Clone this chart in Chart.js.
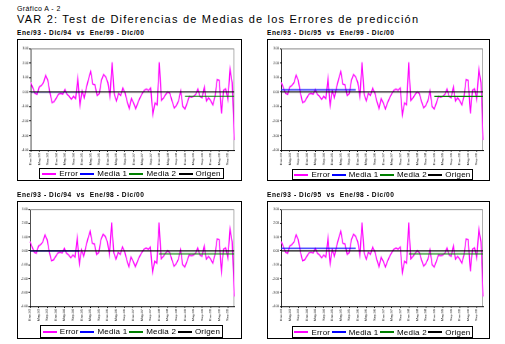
<!DOCTYPE html>
<html>
<head>
<meta charset="utf-8">
<script src="https://cdn.jsdelivr.net/npm/chart.js@4"></script>
<style>
  body { margin: 0; background: #fff; font-family: "Liberation Sans", Arial, sans-serif; }
  #page { position: relative; width: 505px; height: 344px; }
  .txt { position: absolute; left: 17px; white-space: pre; color: #000; }
  .box { position: absolute; border: 1px solid #000; }
  .box canvas { display: block; }
  .legend { position: absolute; border: 1px solid #000; box-sizing: border-box; display: flex;
            justify-content: space-evenly; align-items: center; font-size: 8px; letter-spacing: 0.2px; }
  .legend .item { display: flex; align-items: center; white-space: pre; }
  .legend .mark { display: inline-block; width: 14px; height: 0; margin-right: 3px; }
</style>
</head>
<body>
<div id="page">
  <div class="txt" style="top:5px;font-size:7px;letter-spacing:0.4px;">Gráfico A - 2</div>
  <div class="txt" style="top:13px;font-size:11px;letter-spacing:1.2px;">VAR 2: Test de Diferencias de Medias de los Errores de predicción</div>
</div>
<script>
const monthNames = ['Ene','Feb','Mar','Abr','May','Jun','Jul','Ago','Sep','Oct','Nov','Dic'];
const years = ['93','94','95','96','97','98','99','00'];
const labels = [];
years.forEach(y => monthNames.forEach(m => labels.push(m + '-' + y)));

// error de prediccion, Ene/93 - Dic/00
const errorValues = [
   0.67,  0.30, -0.10, -0.17,  0.35,  0.45,  0.65,  1.15,  0.80, -0.05, -0.72, -0.65,
  -0.40, -0.15, -0.10, -0.15,  0.17, -0.17, -0.30, -0.50, -0.30, -0.45,  0.95, -0.93,
   0.07, -0.40,  0.30,  0.90,  1.40,  0.55,  0.50, -0.25, -0.12,  0.80,  1.20,  1.05,
   0.65, -0.30,  2.05, -0.15, -0.60, -0.10, -0.25,  0.27, -0.05, -0.65, -1.15, -0.45,
  -0.75, -1.15, -0.75, -0.40, -0.12,  0.12,  0.20,  0.12,  0.27, -1.55, -0.75, -0.88,
   2.05, -0.57, -0.40, -0.17,  0.02, -0.12, -0.65, -1.10, -0.93, -0.60,  0.07, -1.00,
  -1.17, -0.75, -0.30, -0.35, -0.30, -0.17,  0.20, -0.30, -0.40,  0.35, -0.60, -0.40,
  -0.60, -0.88, -0.30,  0.85,  0.80, -1.48,  0.12,  0.22, -0.52,  1.57,  0.65, -3.30
];

const panelTitles = [
  'Ene/93 - Dic/94  vs  Ene/99 - Dic/00',
  'Ene/93 - Dic/95  vs  Ene/99 - Dic/00',
  'Ene/93 - Dic/94  vs  Ene/98 - Dic/00',
  'Ene/93 - Dic/95  vs  Ene/98 - Dic/00'
];
const media1End = ['Dic-94', 'Dic-95', 'Dic-94', 'Dic-95'];
const media1Level = [0.0, 0.15, 0.0, 0.18];
const media2Start = ['Ene-99', 'Ene-99', 'Ene-98', 'Ene-98'];
const media2Level = [-0.29, -0.30, -0.21, -0.21];

// box: left, top, width, height ; plot: left, top, right, bottom (relative to box)
const boxes = [
  [17, 39, 225, 142], [267, 39, 223, 142],
  [17, 201, 225, 138], [267, 201, 223, 138]
];
const plots = [
  [18, 10, 215, 109], [19, 10, 214, 109],
  [17, 9, 215, 102], [19, 9, 214, 102]
];
// legend frame: left, top, width, height (relative to box)
const legendBoxes = [
  [22, 129, 185, 11], [25, 130, 181, 11],
  [23, 124, 183, 13], [25, 125, 181, 12]
];

const frame = {
  id: 'frame',
  beforeDatasetsDraw(chart) {
    const a = chart.chartArea, c = chart.ctx;
    c.save();
    c.strokeStyle = '#808080';
    c.lineWidth = 1;
    c.beginPath();
    c.moveTo(a.left, a.top + 0.5);
    c.lineTo(a.right - 0.5, a.top + 0.5);
    c.lineTo(a.right - 0.5, a.bottom);
    c.stroke();
    c.restore();
  }
};

function buildLegend(chart, box, i) {
  const [ll, lt, lw, lh] = legendBoxes[i];
  const lg = document.createElement('div');
  lg.className = 'legend';
  lg.style.left = (ll - 1) + 'px';
  lg.style.top = (lt - 1) + 'px';
  lg.style.width = lw + 'px';
  lg.style.height = lh + 'px';
  chart.data.datasets.forEach(ds => {
    const el = document.createElement('span');
    el.className = 'item';
    const mark = document.createElement('span');
    mark.className = 'mark';
    mark.style.borderTop = '2px solid ' + ds.borderColor;
    el.appendChild(mark);
    el.appendChild(document.createTextNode(ds.label));
    lg.appendChild(el);
  });
  box.appendChild(lg);
}

function renderPanel(i) {
  const [bx, by, bw, bh] = boxes[i];
  const [pl, pt, pr, pb] = plots[i];
  const page = document.getElementById('page');

  const title = document.createElement('div');
  title.className = 'txt';
  title.style.left = bx + 'px';
  title.style.top = (by - 10) + 'px';
  title.style.fontSize = '6.6px';
  title.style.fontWeight = 'bold';
  title.style.letterSpacing = '0.55px';
  title.textContent = panelTitles[i];
  page.appendChild(title);

  const box = document.createElement('div');
  box.className = 'box';
  box.style.left = bx + 'px';
  box.style.top = by + 'px';
  box.style.width = (bw - 2) + 'px';
  box.style.height = (bh - 2) + 'px';
  const cv = document.createElement('canvas');
  box.appendChild(cv);
  page.appendChild(box);

  const cw = bw - 2, ch = bh - 2;

  const data = {
    labels: labels,
    datasets: [
      { label: 'Error', data: errorValues, borderColor: '#ff00ff', borderWidth: 1.5, order: 4 },
      { label: 'Media 1', data: [{ x: labels[0], y: media1Level[i] }, { x: media1End[i], y: media1Level[i] }],
        borderColor: '#0000ff', borderWidth: 1.2, order: 3 },
      { label: 'Media 2', data: [{ x: media2Start[i], y: media2Level[i] }, { x: labels[labels.length - 1], y: media2Level[i] }],
        borderColor: '#008000', borderWidth: 1.2, order: 2 },
      { label: 'Origen', data: [{ x: labels[0], y: 0 }, { x: labels[labels.length - 1], y: 0 }],
        borderColor: '#000000', borderWidth: 1.2, order: 1 }
    ]
  };

  const options = {
    responsive: false,
    animation: false,
    devicePixelRatio: 1,
    layout: { padding: { top: pt - 1, right: cw - (pr - 1), bottom: 0, left: 0 } },
    elements: { point: { radius: 0 }, line: { tension: 0 } },
    plugins: {
      legend: { display: false },
      tooltip: { enabled: false }
    },
    scales: {
      x: {
        type: 'category',
        offset: false,
        border: { color: '#000', width: 1 },
        grid: {
          drawOnChartArea: false,
          tickLength: 2,
          color: ctx => (ctx.index % 4 === 0 ? '#000' : 'rgba(0,0,0,0)')
        },
        ticks: {
          autoSkip: false,
          maxRotation: 90,
          minRotation: 90,
          padding: 1,
          color: '#000',
          font: { family: 'Liberation Sans', size: 4 },
          callback: function (v, idx) { return idx % 4 === 0 ? this.getLabelForValue(v) : ''; }
        },
        afterFit: s => { s.height = ch - (pb - 1); }
      },
      y: {
        min: -4,
        max: 3,
        border: { color: '#000', width: 1 },
        grid: { drawOnChartArea: false, tickLength: 2, color: '#000' },
        ticks: {
          stepSize: 1,
          padding: 1,
          color: '#000',
          font: { family: 'Liberation Sans', size: 4 },
          callback: v => Number(v).toFixed(2)
        },
        afterFit: s => { s.width = pl - 1; }
      }
    }
  };

  const chart = new Chart(cv, { type: 'line', data, options, plugins: [frame] });
  cv.style.width = cw + 'px';
  cv.style.height = ch + 'px';
  buildLegend(chart, box, i);
}

Chart.defaults.font.family = 'Liberation Sans';
for (let i = 0; i < 4; i++) {
  renderPanel(i);
}
</script>
</body>
</html>
